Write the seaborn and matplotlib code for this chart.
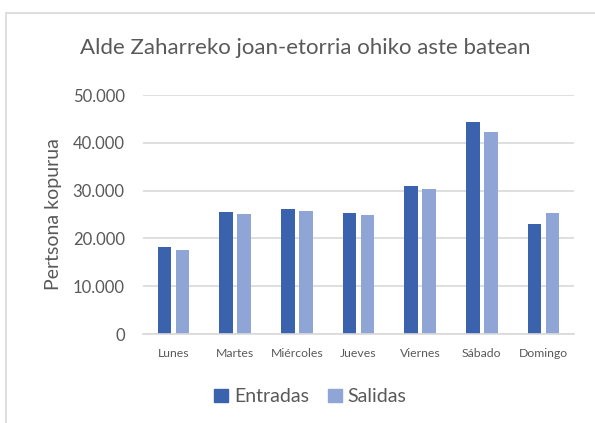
import matplotlib
matplotlib.use("Agg")
import matplotlib.pyplot as plt
import matplotlib.patches as mpatches
import matplotlib.ticker as mticker
import pandas as pd
import seaborn as sns

days = ["Lunes", "Martes", "Miércoles", "Jueves", "Viernes", "Sábado", "Domingo"]
entradas = [18250, 25450, 26200, 25250, 30900, 44300, 23000]
salidas = [17500, 25150, 25700, 24950, 30250, 42250, 25300]
series = ["Entradas", "Salidas"]
yticks = [0, 10000, 20000, 30000, 40000, 50000]

TEXT = "#595959"
GRID = "#D9D9D9"
colors = ["#3A62AD", "#8EA5D5"]

df = pd.DataFrame({
    "day": days * 2,
    "value": entradas + salidas,
    "serie": ["Entradas"] * len(days) + ["Salidas"] * len(days),
})

sns.set_style("white")
plt.rcParams["font.family"] = ["Lato", "DejaVu Sans"]

fig = plt.figure(figsize=(5.95, 4.23), dpi=100)
ax = fig.add_axes([0.240, 0.2104, 0.725, 0.565])

sns.barplot(
    data=df, x="day", y="value", hue="serie", hue_order=series,
    palette=colors, width=0.584, gap=0.24, ax=ax, legend=False,
    saturation=1, linewidth=0,
)

ax.set_ylim(0, 50000)
ax.set_xlim(-0.5, len(days) - 0.5)
ax.set_yticks(yticks)
ax.yaxis.set_major_formatter(
    mticker.FuncFormatter(lambda v, p: f"{int(v):,}".replace(",", "."))
)
ax.grid(axis="y", color=GRID, linewidth=1.2)
ax.set_axisbelow(True)
for s in ["top", "right", "left"]:
    ax.spines[s].set_visible(False)
ax.spines["bottom"].set_color(GRID)
ax.spines["bottom"].set_linewidth(1.2)
ax.tick_params(axis="both", length=0)
ax.tick_params(axis="y", labelsize=12, labelcolor=TEXT, pad=13)
ax.tick_params(axis="x", labelsize=8.8, labelcolor=TEXT, pad=10)
ax.set_xlabel("")
ax.set_ylabel("Pertsona kopurua", fontsize=14, color=TEXT, labelpad=8)

fig.text(0.513, 0.887, "Alde Zaharreko joan-etorria ohiko aste batean",
         ha="center", va="center", fontsize=16, color=TEXT)

handles = [mpatches.Patch(color=c, label=s) for c, s in zip(colors, series)]
fig.legend(handles=handles, loc="center", bbox_to_anchor=(0.522, 0.062),
           ncol=2, frameon=False, fontsize=14, labelcolor=TEXT,
           handlelength=0.7, handleheight=0.7, handletextpad=0.3,
           columnspacing=1.0)

# chart-area border (cropped on the right and bottom)
fig.patches.append(mpatches.Rectangle(
    (6 / 595, -0.1), 1.2, 1 - 13 / 423 + 0.1, transform=fig.transFigure,
    fill=False, edgecolor=GRID, linewidth=1.2))

fig.savefig("out.png", dpi=100)
